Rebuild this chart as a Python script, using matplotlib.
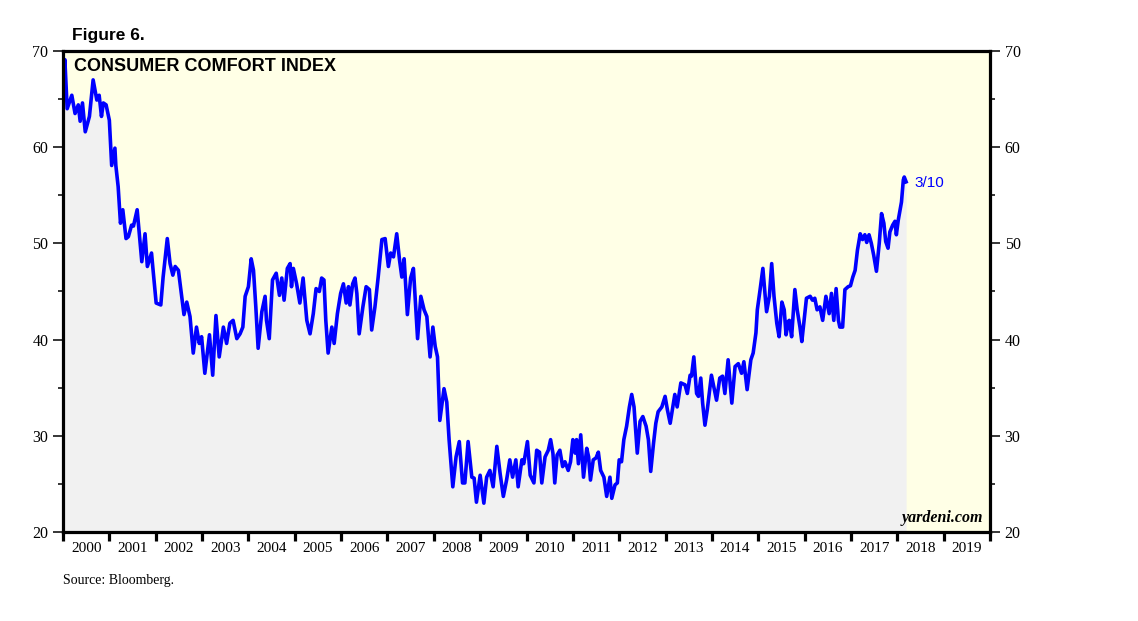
import numpy as np
import matplotlib
matplotlib.use("Agg")
from matplotlib import pyplot as plt
from matplotlib.ticker import MultipleLocator, FixedLocator, NullFormatter

# weekly consumer comfort index (decimal years)
t = [2000.00, 2000.04, 2000.09, 2000.19, 2000.26, 2000.33, 2000.37, 2000.42, 2000.48, 2000.57,
     2000.65, 2000.73, 2000.78, 2000.83, 2000.87, 2000.93, 2001.00, 2001.05, 2001.12, 2001.14,
     2001.19, 2001.24, 2001.29, 2001.36, 2001.41, 2001.48, 2001.52, 2001.60, 2001.70, 2001.77,
     2001.82, 2001.91, 2001.94, 2002.01, 2002.11, 2002.16, 2002.25, 2002.31, 2002.37, 2002.42,
     2002.49, 2002.56, 2002.61, 2002.67, 2002.74, 2002.81, 2002.88, 2002.94, 2002.99, 2003.06,
     2003.16, 2003.23, 2003.30, 2003.37, 2003.46, 2003.53, 2003.60, 2003.67, 2003.75, 2003.82,
     2003.88, 2003.93, 2004.00, 2004.06, 2004.11, 2004.16, 2004.21, 2004.29, 2004.36, 2004.39,
     2004.45, 2004.52, 2004.60, 2004.67, 2004.72, 2004.77, 2004.84, 2004.90, 2004.93, 2004.97,
     2005.04, 2005.11, 2005.18, 2005.26, 2005.33, 2005.40, 2005.46, 2005.53, 2005.58, 2005.63,
     2005.67, 2005.72, 2005.80, 2005.85, 2005.92, 2005.99, 2006.05, 2006.11, 2006.16, 2006.19,
     2006.25, 2006.30, 2006.34, 2006.39, 2006.47, 2006.54, 2006.61, 2006.66, 2006.73, 2006.80,
     2006.88, 2006.95, 2007.02, 2007.07, 2007.13, 2007.20, 2007.26, 2007.31, 2007.36, 2007.43,
     2007.50, 2007.56, 2007.65, 2007.72, 2007.79, 2007.85, 2007.92, 2007.98, 2008.03, 2008.08,
     2008.13, 2008.22, 2008.28, 2008.33, 2008.41, 2008.48, 2008.55, 2008.62, 2008.67, 2008.74,
     2008.82, 2008.87, 2008.92, 2009.00, 2009.08, 2009.14, 2009.21, 2009.28, 2009.36, 2009.43,
     2009.50, 2009.57, 2009.64, 2009.70, 2009.77, 2009.82, 2009.90, 2009.94, 2010.02, 2010.08,
     2010.16, 2010.22, 2010.28, 2010.33, 2010.40, 2010.47, 2010.52, 2010.57, 2010.61, 2010.66,
     2010.72, 2010.78, 2010.83, 2010.90, 2010.95, 2011.00, 2011.05, 2011.08, 2011.12, 2011.17,
     2011.23, 2011.30, 2011.34, 2011.38, 2011.44, 2011.50, 2011.55, 2011.60, 2011.67, 2011.73,
     2011.80, 2011.84, 2011.91, 2011.96, 2012.00, 2012.05, 2012.10, 2012.16, 2012.22, 2012.27,
     2012.32, 2012.39, 2012.45, 2012.51, 2012.58, 2012.63, 2012.68, 2012.74, 2012.79, 2012.84,
     2012.92, 2012.99, 2013.04, 2013.10, 2013.20, 2013.25, 2013.33, 2013.42, 2013.47, 2013.53,
     2013.56, 2013.61, 2013.67, 2013.71, 2013.76, 2013.80, 2013.85, 2013.90, 2013.99, 2014.04,
     2014.10, 2014.17, 2014.23, 2014.28, 2014.35, 2014.43, 2014.50, 2014.57, 2014.64, 2014.69,
     2014.76, 2014.84, 2014.89, 2014.95, 2014.98, 2015.04, 2015.10, 2015.15, 2015.18, 2015.24,
     2015.29, 2015.34, 2015.40, 2015.45, 2015.51, 2015.56, 2015.60, 2015.65, 2015.67, 2015.72,
     2015.79, 2015.84, 2015.90, 2015.94, 2015.99, 2016.04, 2016.12, 2016.17, 2016.22, 2016.27,
     2016.33, 2016.39, 2016.46, 2016.53, 2016.58, 2016.63, 2016.68, 2016.73, 2016.76, 2016.82,
     2016.87, 2016.94, 2016.99, 2017.04, 2017.09, 2017.14, 2017.20, 2017.25, 2017.30, 2017.34,
     2017.39, 2017.44, 2017.49, 2017.55, 2017.61, 2017.66, 2017.71, 2017.75, 2017.80, 2017.84,
     2017.90, 2017.95, 2017.98, 2018.02, 2018.06, 2018.09, 2018.13, 2018.15, 2018.19]

cci = [65.6, 69.1, 64.0, 65.4, 63.5, 64.4, 62.7, 64.6, 61.6, 63.2,
       67.0, 64.9, 65.4, 63.2, 64.6, 64.4, 62.8, 58.1, 59.9, 58.1,
       55.9, 52.1, 53.5, 50.5, 50.7, 51.9, 51.8, 53.5, 48.1, 51.0,
       47.6, 49.0, 47.4, 43.8, 43.6, 46.5, 50.5, 47.9, 46.7, 47.6,
       47.2, 44.5, 42.6, 43.9, 42.4, 38.6, 41.3, 39.6, 40.3, 36.5,
       40.5, 36.3, 42.5, 38.2, 41.3, 39.6, 41.7, 42.0, 40.1, 40.6,
       41.3, 44.5, 45.5, 48.4, 47.2, 43.4, 39.1, 42.9, 44.5, 42.0,
       40.1, 46.2, 46.9, 44.6, 46.4, 44.1, 47.4, 47.9, 45.5, 47.4,
       45.8, 43.8, 46.4, 42.0, 40.6, 42.7, 45.3, 45.0, 46.4, 46.2,
       42.0, 38.6, 41.3, 39.6, 42.7, 44.8, 45.8, 43.8, 45.5, 43.6,
       45.8, 46.4, 44.8, 40.6, 43.4, 45.5, 45.2, 41.0, 43.4, 46.5,
       50.4, 50.5, 47.6, 49.0, 48.6, 51.0, 48.3, 46.5, 48.4, 42.6,
       46.4, 47.4, 40.1, 44.5, 43.1, 42.4, 38.2, 41.3, 39.3, 38.2,
       31.6, 34.9, 33.5, 29.6, 24.7, 27.8, 29.4, 25.1, 25.1, 29.4,
       25.7, 25.6, 23.1, 25.9, 23.0, 25.7, 26.4, 24.7, 28.9, 26.1,
       23.7, 25.4, 27.5, 25.7, 27.5, 24.7, 27.5, 27.1, 29.4, 25.9,
       25.1, 28.5, 28.3, 25.1, 27.8, 28.5, 29.6, 28.2, 25.1, 28.0,
       28.5, 26.8, 27.3, 26.4, 27.3, 29.6, 28.2, 29.6, 27.1, 30.1,
       25.7, 28.7, 27.8, 25.4, 27.5, 27.7, 28.3, 26.4, 25.7, 23.7,
       25.7, 23.5, 24.9, 25.1, 27.5, 27.3, 29.6, 31.0, 33.0, 34.3,
       33.0, 28.2, 31.5, 32.0, 31.0, 29.6, 26.3, 29.2, 31.3, 32.5,
       33.0, 34.1, 32.7, 31.3, 34.3, 33.0, 35.5, 35.3, 34.4, 36.3,
       36.2, 38.2, 34.4, 34.1, 36.0, 33.4, 31.1, 32.7, 36.3, 35.1,
       33.7, 36.0, 36.2, 34.4, 37.9, 33.4, 37.2, 37.5, 36.5, 37.7,
       34.8, 37.9, 38.6, 40.7, 43.1, 45.2, 47.4, 44.5, 42.9, 44.5,
       47.9, 44.5, 41.7, 40.3, 43.9, 43.1, 40.5, 41.9, 42.0, 40.3,
       45.2, 43.1, 41.3, 39.8, 42.0, 44.3, 44.5, 44.1, 44.3, 43.1,
       43.4, 42.0, 44.5, 42.7, 44.8, 42.0, 45.3, 42.0, 41.3, 41.3,
       45.2, 45.5, 45.6, 46.5, 47.2, 49.3, 51.0, 50.4, 50.9, 50.1,
       50.9, 50.0, 48.8, 47.1, 50.0, 53.1, 52.1, 50.2, 49.5, 51.2,
       51.9, 52.3, 50.9, 52.4, 53.5, 54.3, 56.6, 56.9, 56.4]

years = list(range(2000, 2020))
last_label = "3/10"

fig = plt.figure(figsize=(11.38, 6.21), dpi=100)
ax = fig.add_axes([63 / 1138, 1 - 532 / 621, 927 / 1138, 481 / 621])
ax.set_facecolor("#ffffe6")

ax.fill_between(t, cci, 20, color="#f1f1f1", lw=0)
ax.plot(t, cci, color="#0000ff", lw=2.6, solid_joinstyle="round")
ax.annotate(last_label, (t[-1], cci[-1]), xytext=(6, -1), textcoords="offset points",
            color="#0000ff", fontsize=11, family="Liberation Sans", va="center")

ax.set_xlim(2000, 2020)
ax.set_ylim(20, 70)

for s in ax.spines.values():
    s.set_linewidth(2.3)

# x axis: ticks on year boundaries, labels centred in each year
ax.xaxis.set_major_locator(FixedLocator(range(2000, 2021)))
ax.xaxis.set_major_formatter(NullFormatter())
ax.xaxis.set_minor_locator(FixedLocator([y + 0.5 for y in years]))
ax.set_xticklabels([str(y) for y in years], minor=True)
ax.tick_params(axis="x", which="major", direction="out", length=6.5, width=2.3)
ax.tick_params(axis="x", which="minor", length=0, pad=7, labelsize=11)

ax.yaxis.set_major_locator(MultipleLocator(10))
ax.yaxis.set_minor_locator(MultipleLocator(5))
ax.tick_params(axis="y", which="both", left=True, right=True, labelleft=True, labelright=True,
               direction="out", labelsize=11.5)
ax.tick_params(axis="y", which="major", length=7, width=1.1)
ax.tick_params(axis="y", which="minor", length=3.5, width=1.1)
for lab in ax.get_xticklabels(minor=True) + ax.get_yticklabels():
    lab.set_family("Liberation Serif")

ax.text(0.012, 0.985, "CONSUMER COMFORT INDEX", transform=ax.transAxes, ha="left", va="top",
        fontsize=13, fontweight="bold", family="Liberation Sans")
ax.text(0.993, 0.012, "yardeni.com", transform=ax.transAxes, ha="right", va="bottom",
        fontsize=11.5, fontweight="bold", style="italic", family="Liberation Serif")

fig.text(72 / 1138, 1 - 40 / 621, "Figure 6.", fontsize=12.5, fontweight="bold",
         family="Liberation Sans", ha="left", va="baseline")
fig.text(63 / 1138, 1 - 584 / 621, "Source: Bloomberg.", fontsize=10,
         family="Liberation Serif", ha="left", va="baseline")

fig.savefig("out.png", dpi=100, facecolor="white")
